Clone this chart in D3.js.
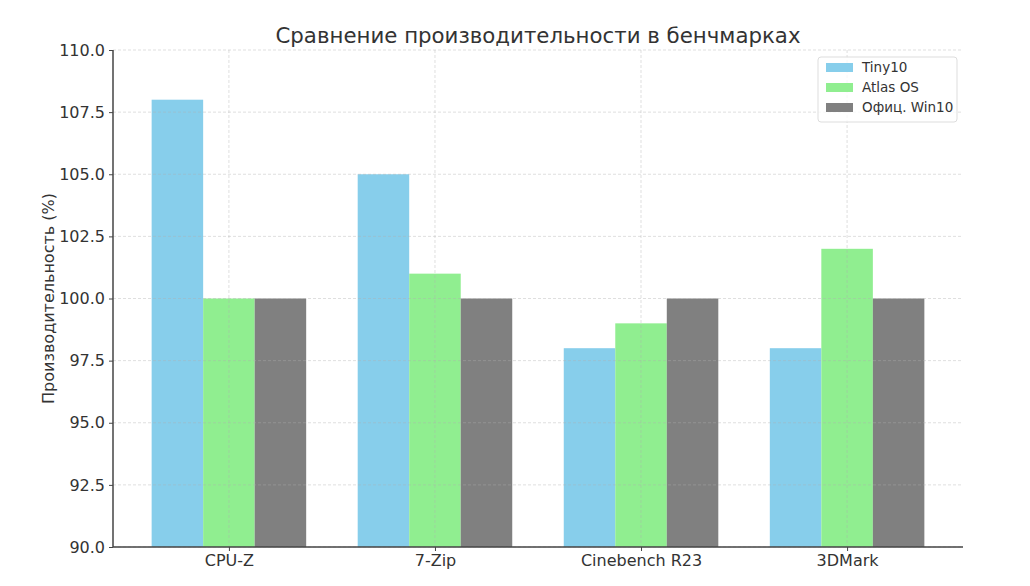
<!DOCTYPE html>
<html>
<head>
<meta charset="utf-8">
<script src="https://d3js.org/d3.v7.min.js"></script>
<style>
  body { margin: 0; background: #fff; }
  text { font-family: "DejaVu Sans", sans-serif; fill: #333; }
</style>
</head>
<body>
<svg width="1030" height="586"></svg>
<script>
var categories = ["CPU-Z", "7-Zip", "Cinebench R23", "3DMark"];
var seriesNames = ["Tiny10", "Atlas OS", "Офиц. Win10"];
var tiny10 = [108, 105, 98, 98];
var atlas = [100, 101, 99, 102];
var win10 = [100, 100, 100, 100];
var yTicks = [90, 92.5, 95, 97.5, 100, 102.5, 105, 107.5, 110];
var colors = ["#87ceeb", "#90ee90", "#808080"];

var series = [tiny10, atlas, win10];

var svg = d3.select("svg"),
    margin = {top: 50, right: 67, bottom: 39, left: 113},
    width = 1030 - margin.left - margin.right,
    height = 586 - margin.top - margin.bottom;

var g = svg.append("g")
    .attr("transform", "translate(" + margin.left + "," + margin.top + ")");

// matplotlib-like numeric x: groups at 0..3, bar width 0.25
var barW = 0.25;
var x = d3.scaleLinear()
    .domain([-0.5625, categories.length - 1 + 0.5625])
    .range([0, width]);
var y = d3.scaleLinear().domain([90, 110]).range([height, 0]);

// bars
series.forEach(function(vals, si) {
  g.append("g").selectAll("rect")
    .data(vals)
    .enter().append("rect")
    .attr("x", function(d, i) { return x(i + (si - 1) * barW - barW / 2); })
    .attr("width", x(barW) - x(0))
    .attr("y", function(d) { return y(d); })
    .attr("height", function(d) { return height - y(d); })
    .attr("fill", colors[si]);
});

// grid on top of bars, faint
var grid = g.append("g").attr("stroke", "#b0b0b0").attr("stroke-opacity", 0.5)
    .attr("stroke-dasharray", "3,2").attr("stroke-width", 0.8);
grid.selectAll("line.h").data(yTicks).enter().append("line")
    .attr("x1", 0).attr("x2", width)
    .attr("y1", function(d) { return y(d); }).attr("y2", function(d) { return y(d); });
grid.selectAll("line.v").data(categories).enter().append("line")
    .attr("y1", 0).attr("y2", height)
    .attr("x1", function(d, i) { return x(i); }).attr("x2", function(d, i) { return x(i); });

// axes
var yAxis = g.append("g")
    .call(d3.axisLeft(y).tickValues(yTicks).tickFormat(d3.format(".1f")).tickSize(4).tickPadding(4));
var xAxis = g.append("g")
    .attr("transform", "translate(0," + height + ")")
    .call(d3.axisBottom(x).tickValues(d3.range(categories.length))
      .tickFormat(function(i) { return categories[i]; }).tickSize(4).tickPadding(4));

[xAxis, yAxis].forEach(function(a) {
  a.select(".domain").attr("stroke", "#444").attr("stroke-width", 1.5);
  a.selectAll(".tick line").attr("stroke", "#444");
  a.selectAll(".tick text").style("font-size", "16px").attr("fill", "#333");
});
yAxis.select(".domain").attr("d", "M0," + height + "V0");
xAxis.select(".domain").attr("d", "M0,0H" + width);

// title and label
svg.append("text")
    .attr("x", margin.left + width / 2).attr("y", 43)
    .attr("text-anchor", "middle")
    .style("font-size", "21.3px")
    .text("Сравнение производительности в бенчмарках");

svg.append("text")
    .attr("transform", "translate(54," + (margin.top + height / 2) + ") rotate(-90)")
    .attr("text-anchor", "middle")
    .style("font-size", "16px")
    .text("Производительность (%)");

// legend
var lg = svg.append("g").attr("transform", "translate(818,57)");
lg.append("rect").attr("width", 139).attr("height", 65).attr("rx", 3)
    .attr("fill", "#fff").attr("fill-opacity", 0.8)
    .attr("stroke", "#ddd");
seriesNames.forEach(function(name, i) {
  lg.append("rect").attr("x", 8).attr("y", 6 + i * 20).attr("width", 27).attr("height", 9)
    .attr("fill", colors[i]);
  lg.append("text").attr("x", 44).attr("y", 15 + i * 20)
    .style("font-size", "13.5px").text(name);
});
</script>
</body>
</html>
